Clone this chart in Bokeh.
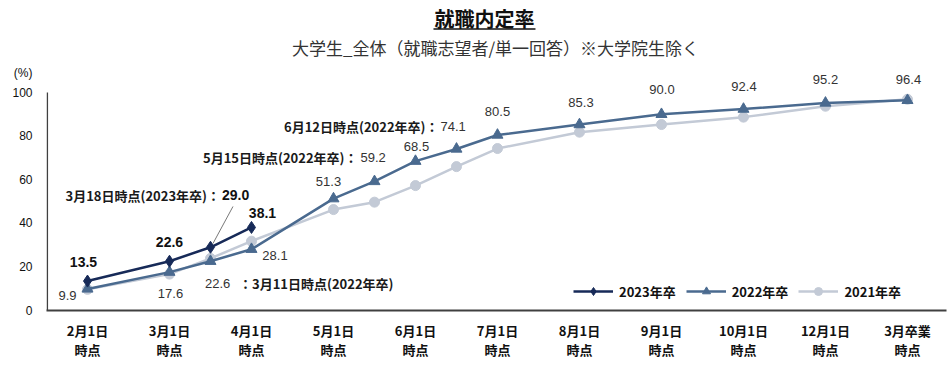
from bokeh.plotting import figure
from bokeh.models import Range1d, FixedTicker, Legend, LegendItem, LinearAxis
from bokeh.embed import file_html
from bokeh.resources import INLINE
from bokeh.core.properties import value

# ---------------- data ----------------
cat_line1 = ["2月1日", "3月1日", "4月1日", "5月1日", "6月1日", "7月1日",
             "8月1日", "9月1日", "10月1日", "12月1日", "3月卒業"]
cat_line2 = ["時点"] * 11

# x = category index; .5 = intermediate surveys (3/18, 3/11, 5/15, 6/12)
x_2023 = [0, 1, 1.5, 2]
y_2023 = [13.5, 22.6, 29.0, 38.1]

x_2022 = [0, 1, 1.5, 2, 3, 3.5, 4, 4.5, 5, 6, 7, 8, 9, 10]
y_2022 = [9.9, 17.6, 22.6, 28.1, 51.3, 59.2, 68.5, 74.1, 80.5, 85.3, 90.0, 92.4, 95.2, 96.4]

x_2021 = [0, 1, 1.5, 2, 3, 3.5, 4, 4.5, 5, 6, 7, 8, 9, 10]
y_2021 = [9.7, 16.7, 23.9, 31.8, 46.3, 49.7, 57.3, 66.0, 74.3, 81.8, 85.3, 88.7, 93.7, 96.9]

y_ticks = [0, 20, 40, 60, 80, 100]

title_text = "就職内定率"
subtitle_text = "大学生_全体（就職志望者/単一回答）※大学院生除く"
note_2023 = "3月18日時点(2023年卒)："
note_2022_a = "：3月11日時点(2022年卒)"
note_2022_b = "5月15日時点(2022年卒)："
note_2022_c = "6月12日時点(2022年卒)："

# ---------------- layout helpers (pixel offsets) ----------------
PX_X = 82.0
PX_Y = 2.18
JP = "Noto Sans CJK JP"
NUM = "Liberation Sans"

C23 = "#172a58"
C22 = "#4a6a8f"
C21 = "#c3cad6"
NAN = float("nan")


def off(x, y, dx, dy):
    return x + dx / PX_X, y - dy / PX_Y


p = figure(width=952, height=378,
           x_range=Range1d(-0.5, 10.476), y_range=Range1d(0, 310 / PX_Y),
           output_backend="svg", toolbar_location=None,
           min_border_left=46, min_border_right=6, min_border_top=0, min_border_bottom=68)
p.outline_line_color = None
p.grid.visible = False

# y axis
p.yaxis.ticker = FixedTicker(ticks=y_ticks + [109])
p.yaxis.major_label_overrides = {109: "(%)"}
p.yaxis.axis_line_color = None
p.yaxis.major_tick_line_color = None
p.yaxis.minor_tick_line_color = None
p.yaxis.major_tick_out = 0
p.yaxis.major_tick_in = 0
p.yaxis.major_label_standoff = 14
p.yaxis.major_label_text_font = NUM
p.yaxis.major_label_text_font_size = "12px"
p.yaxis.major_label_text_color = "#111111"

# x axis (two stacked axes for two-line labels)
xa = p.xaxis[0]
xa.ticker = FixedTicker(ticks=list(range(len(cat_line1))))
xa.major_label_overrides = {i: s for i, s in enumerate(cat_line1)}
xa.axis_line_color = "#404040"
xa.axis_line_width = 2
xa.major_tick_line_color = None
xa.minor_tick_line_color = None
xa.major_tick_out = 0
xa.major_tick_in = 0
xa.major_label_standoff = 10
xa.major_label_text_font = JP
xa.major_label_text_font_style = "bold"
xa.major_label_text_font_size = "13px"
xa.major_label_text_color = "#111111"

xb = LinearAxis(ticker=FixedTicker(ticks=list(range(len(cat_line2)))),
                major_label_overrides={i: s for i, s in enumerate(cat_line2)})
xb.axis_line_color = None
xb.major_tick_line_color = None
xb.minor_tick_line_color = None
xb.major_tick_out = 0
xb.major_tick_in = 0
xb.major_label_standoff = -3
xb.major_label_text_font = JP
xb.major_label_text_font_style = "bold"
xb.major_label_text_font_size = "13px"
xb.major_label_text_color = "#111111"
p.add_layout(xb, "below")

# y axis line from 0 to 100
p.segment(x0=[-0.49], y0=[y_ticks[0]], x1=[-0.49], y1=[y_ticks[-1]], line_color="#404040", line_width=1.5)

# ---------------- series ----------------
l21 = p.line(x_2021, y_2021, line_color=C21, line_width=2.5)
s21 = p.scatter(x_2021, y_2021, marker="circle", size=10, fill_color=C21, line_color=C21)
l22 = p.line(x_2022, y_2022, line_color=C22, line_width=2.5)
s22 = p.scatter(x_2022, y_2022, marker="triangle", size=11, fill_color=C22, line_color=C22)
l23 = p.line(x_2023, y_2023, line_color=C23, line_width=2.5)
s23 = p.scatter(x_2023, y_2023, marker="diamond", size=12, fill_color=C23, line_color=C23)

# legend-only marker samples (smaller, as in the reference legend; never drawn in the plot)
g23 = p.scatter(x=[NAN], y=[NAN], marker="diamond", size=7, fill_color=C23, line_color=C23)
g22 = p.scatter(x=[NAN], y=[NAN], marker="triangle", size=6, fill_color=C22, line_color=C22)
g21 = p.scatter(x=[NAN], y=[NAN], marker="circle", size=9, fill_color=C21, line_color=C21)

# ---------------- data labels ----------------
# 2023 (bold)
d23_dx = [-4, 0, 11.5, 11]
d23_dy = [-19, -19, -52, -14]
d23_al = ["center", "center", "left", "center"]
lx, ly = zip(*[off(x, y, dx, dy) for x, y, dx, dy in zip(x_2023, y_2023, d23_dx, d23_dy)])
p.text(x=list(lx), y=list(ly), text=["%.1f" % v for v in y_2023],
       text_align=d23_al, text_baseline="middle", text_font=value(NUM),
       text_font_size="14px", text_font_style="bold", text_color="#111111")

# 2022 (regular)
d22_dx = [-20, 1, -5.5, 23.5, -5, -14, 1, -16, 0, 1.5, 0.5, 0.5, 0, 1]
d22_dy = [6.6, 21, 22, 6, -17, -24, -15, -22.5, -24, -22.5, -25, -22.6, -23.5, -21]
d22_al = ["center", "center", "left", "center", "center", "left", "center", "left",
          "center", "center", "center", "center", "center", "center"]
lx, ly = zip(*[off(x, y, dx, dy) for x, y, dx, dy in zip(x_2022, y_2022, d22_dx, d22_dy)])
p.text(x=list(lx), y=list(ly), text=["%.1f" % v for v in y_2022],
       text_align=d22_al, text_baseline="middle", text_font=value(NUM),
       text_font_size="13px", text_color="#333333")

# descriptive notes
nx, ny, nt, na = [], [], [], []
for xi, yi, dx, dy, t, a in [
    (x_2023[2], y_2023[2], 9.5, -52, note_2023, "right"),
    (x_2022[2], y_2022[2], 28.5, 22, note_2022_a, "left"),
    (x_2022[5], y_2022[5], -17, -24, note_2022_b, "right"),
    (x_2022[7], y_2022[7], -18, -22.5, note_2022_c, "right"),
]:
    a_x, a_y = off(xi, yi, dx, dy)
    nx.append(a_x); ny.append(a_y); nt.append(t); na.append(a)
p.text(x=nx, y=ny, text=nt, text_align=na, text_baseline="middle",
       text_font=value(JP), text_font_size="13px", text_font_style="bold", text_color="#1a1a1a")

# leader line for 3/18 label
sx0, sy0 = off(x_2023[2], y_2023[2], 22.5, -40.8)
sx1, sy1 = off(x_2023[2], y_2023[2], 2.5, -3.8)
p.segment(x0=[sx0], y0=[sy0], x1=[sx1], y1=[sy1], line_color="#555555", line_width=0.8)

# ---------------- title / subtitle ----------------
p.text(x=[(484 - 87) / PX_X], y=[(310 - 17.5) / PX_Y], text=[title_text],
       text_align="center", text_baseline="middle", text_font=value(JP),
       text_font_size="20px", text_font_style="bold", text_color="#111111")
p.segment(x0=[(433 - 87) / PX_X], y0=[(310 - 28.5) / PX_Y], x1=[(535 - 87) / PX_X], y1=[(310 - 28.5) / PX_Y],
          line_color="#111111", line_width=1.5)
p.text(x=[(495 - 87) / PX_X], y=[(310 - 47) / PX_Y], text=[subtitle_text],
       text_align="center", text_baseline="middle", text_font=value(JP),
       text_font_size="17px", text_color="#333333")

# ---------------- legend ----------------
legend = Legend(items=[
    LegendItem(label="2023年卒", renderers=[l23, g23]),
    LegendItem(label="2022年卒", renderers=[l22, g22]),
    LegendItem(label="2021年卒", renderers=[l21, g21]),
], location=(527, 9), orientation="horizontal")
legend.border_line_color = None
legend.background_fill_alpha = 0
legend.padding = 0
legend.margin = 0
legend.spacing = 10
legend.label_standoff = 6
legend.glyph_width = 40
legend.glyph_height = 20
legend.label_height = 20
legend.label_text_font = JP
legend.label_text_font_size = "13px"
legend.label_text_font_style = "bold"
legend.label_text_color = "#111111"
p.add_layout(legend)

open("out.html", "w").write(file_html(p, INLINE))
